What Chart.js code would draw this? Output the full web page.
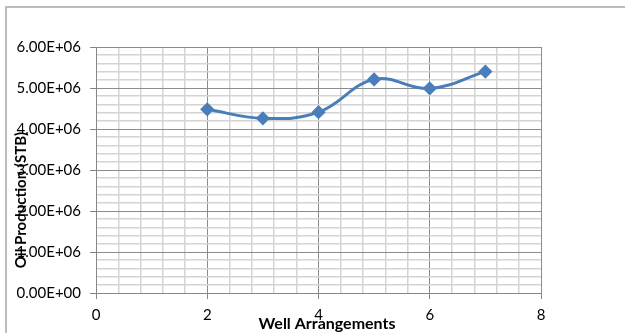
<!DOCTYPE html>
<html lang="en">
<head>
  <meta charset="UTF-8" />
  <title>Oil Production vs Well Arrangements</title>
  <script src="https://cdn.jsdelivr.net/npm/chart.js"></script>
  <style>
    html, body { margin: 0; padding: 0; background: #fff; }
    #wrap { width: 625px; height: 333px; position: relative; }
  </style>
</head>
<body>
  <div id="wrap"><canvas id="grafica" width="625" height="333"></canvas></div>

  <script>
    // datos
    const arreglos = [2, 3, 4, 5, 6, 7];
    const produccion = [4480000, 4260000, 4410000, 5210000, 4990000, 5400000];
    const ejeX = [0, 2, 4, 6, 8];
    const ejeY = [0, 1000000, 2000000, 3000000, 4000000, 5000000, 6000000];

    const fuente = "Lato, 'Open Sans', sans-serif";

    const esMayor = (v, paso) => Math.abs(v / paso - Math.round(v / paso)) < 1e-6;

    function formatoE(v) {
      if (v === 0) return '0.00E+00';
      const [m, e] = v.toExponential(2).split('e');
      const n = parseInt(e, 10);
      return m + 'E' + (n < 0 ? '-' : '+') + String(Math.abs(n)).padStart(2, '0');
    }

    // marco y titulos de ejes (el de Y va encima de las etiquetas, como en Excel)
    const extras = {
      id: 'extras',
      beforeDraw(chart) {
        const ctx = chart.ctx;
        ctx.save();
        ctx.strokeStyle = '#a6a6a6';
        ctx.lineWidth = 1.5;
        ctx.beginPath();
        ctx.moveTo(6, 340);
        ctx.lineTo(6, 7);
        ctx.lineTo(630, 7);
        ctx.stroke();
        ctx.restore();
      },
      afterDraw(chart) {
        const ctx = chart.ctx;
        ctx.save();
        ctx.fillStyle = '#000';
        ctx.textAlign = 'center';
        ctx.textBaseline = 'middle';
        ctx.font = "bold 16px " + fuente;
        ctx.fillText('Well Arrangements', 327, 324, 156);
        ctx.translate(21, 200);
        ctx.rotate(-Math.PI / 2);
        ctx.font = "bold 15px " + fuente;
        ctx.fillText('Oil Production (STB)', 0, 0, 146);
        ctx.restore();
      }
    };

    new Chart(document.getElementById('grafica'), {
      type: 'scatter',
      data: {
        datasets: [{
          label: 'Oil Production',
          data: arreglos.map((x, i) => ({ x: x, y: produccion[i] })),
          showLine: true,
          tension: 0.4,
          borderColor: '#4a7ebb',
          backgroundColor: '#4a7ebb',
          borderWidth: 3,
          pointStyle: 'rectRot',
          pointRadius: 5,
          pointHoverRadius: 5
        }]
      },
      options: {
        responsive: false,
        animation: false,
        layout: { padding: { top: 47, right: 84, left: 0, bottom: 0 } },
        plugins: { legend: { display: false }, tooltip: { enabled: false } },
        scales: {
          x: {
            type: 'linear',
            min: ejeX[0],
            max: ejeX[ejeX.length - 1],
            afterBuildTicks(scale) {
              const t = [];
              for (let i = 0; i <= 20; i++) t.push({ value: i * 0.4 });
              scale.ticks = t;
            },
            afterFit(scale) { scale.height = 40; },
            border: { color: '#868686', width: 1 },
            grid: {
              color: c => esMayor(c.tick.value, 2) ? '#8c8c8c' : '#d4d4d4',
              lineWidth: c => esMayor(c.tick.value, 2) ? 1 : 1.5,
              tickColor: c => esMayor(c.tick.value, 2) ? '#868686' : 'rgba(0,0,0,0)',
              tickLength: 6
            },
            ticks: {
              autoSkip: false,
              maxRotation: 0,
              padding: 7,
              color: '#000',
              font: { family: fuente, size: 15 },
              callback: v => ejeX.some(e => Math.abs(e - v) < 1e-6) ? String(Math.round(v)) : ''
            }
          },
          y: {
            type: 'linear',
            min: ejeY[0],
            max: ejeY[ejeY.length - 1],
            afterBuildTicks(scale) {
              const t = [];
              for (let i = 0; i <= 30; i++) t.push({ value: i * 200000 });
              scale.ticks = t;
            },
            afterFit(scale) { scale.width = 96; },
            border: { color: '#868686', width: 1 },
            grid: {
              color: c => esMayor(c.tick.value, 1000000) ? '#8c8c8c' : '#d4d4d4',
              lineWidth: c => esMayor(c.tick.value, 1000000) ? 1 : 1.5,
              tickColor: c => esMayor(c.tick.value, 1000000) ? '#868686' : 'rgba(0,0,0,0)',
              tickLength: 6
            },
            ticks: {
              autoSkip: false,
              padding: 9,
              color: '#000',
              font: { family: fuente, size: 15 },
              callback: v => ejeY.includes(Math.round(v)) && esMayor(v, 1000000) ? formatoE(Math.round(v)) : ''
            }
          }
        }
      },
      plugins: [extras]
    });
  </script>
</body>
</html>
